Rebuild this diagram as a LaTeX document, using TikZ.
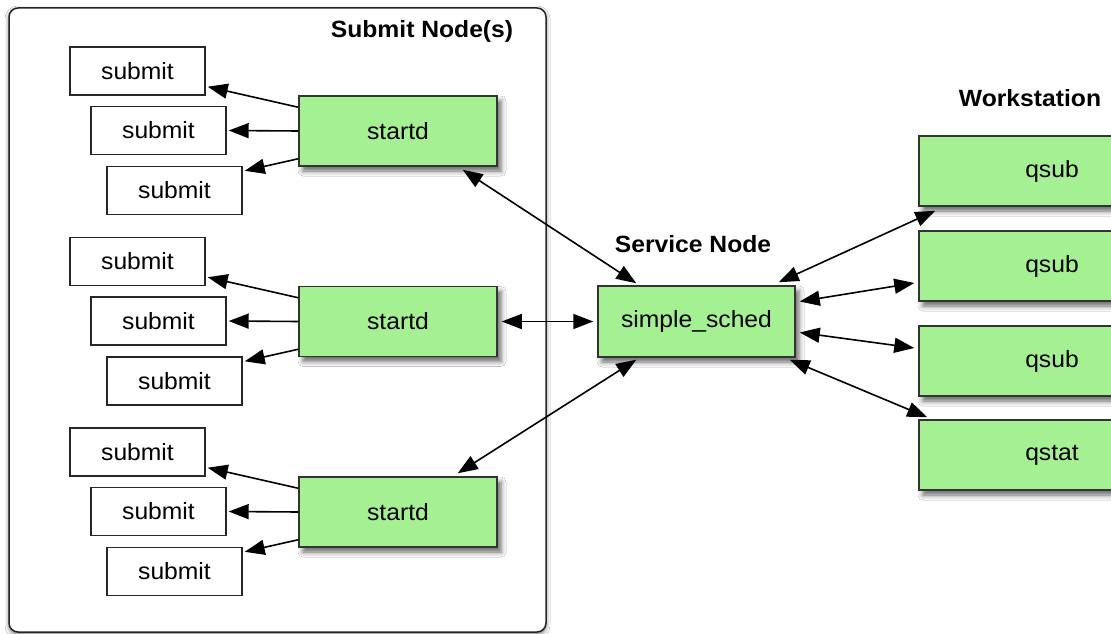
\documentclass[tikz,border=0pt]{standalone}
\usepackage{fontspec}
\setmainfont[FakeStretch=1.05]{Liberation Sans}
\usetikzlibrary{arrows.meta,calc,shadows.blur}
\definecolor{boxgreen}{RGB}{166,240,148}
\begin{document}
\begin{tikzpicture}[x=1pt,y=-1pt,
  font=\fontsize{23.5}{27}\selectfont,
  greenbox/.style={draw=black!80, line width=1.5pt, fill=boxgreen, minimum width=198pt, minimum height=70pt, inner sep=0pt,
    blur shadow={shadow xshift=4pt, shadow yshift=-5pt, shadow blur radius=5pt, shadow opacity=60}},
  subbox/.style={draw=black!85, line width=1.4pt, fill=white, minimum width=135pt, minimum height=48pt, inner sep=0pt},
  tip/.tip={Triangle[length=20pt,width=15pt]},
  arr/.style={line width=1.6pt, -tip},
  darr/.style={line width=1.6pt, tip-tip},
  lbl/.style={font=\fontsize{23.5}{27}\selectfont\bfseries, inner sep=0pt}]
\fill[white] (0,0) rectangle (1111,634);
\useasboundingbox (0,0) rectangle (1111,634);
\clip (0,0) rectangle (1111,634);

% container
\node[draw=black!85, line width=1.5pt, fill=white, rounded corners=9pt, minimum width=537pt, minimum height=624pt,
  blur shadow={shadow xshift=0pt, shadow yshift=-2pt, shadow blur radius=4pt, shadow opacity=60}] (outer) at (277.5,320) {};
\node[lbl] (lsubmit) at (422,31) {Submit Node(s)};

\foreach \g/\dy in {1/0,2/190.5,3/381}{
  \node[subbox] (sa\g) at (137.5,71+\dy) {submit};
  \node[subbox] (sb\g) at (158.5,130.5+\dy) {submit};
  \node[subbox] (sc\g) at (174.5,190.5+\dy) {submit};
  \node[greenbox] (st\g) at (398,131+\dy) {startd};
  \draw[arr] ($(st\g.north west)+(0,12)$) -- ($(sa\g.south east)+(2,-9)$);
  \draw[arr] (st\g.west) -- ($(sb\g.east)+(2,0)$);
  \draw[arr] ($(st\g.south west)+(0,-8)$) -- ($(sc\g.north east)+(2,5)$);
}

\node[lbl] (lservice) at (693,244) {Service Node};
\node[greenbox, minimum width=197pt, minimum height=71pt] (ss) at (696.5,321.5) {simple\_sched};

\node[lbl] (lwork) at (1030,98) {Workstation};
\node[greenbox, minimum width=266pt] (q1) at (1052,171) {qsub};
\node[greenbox, minimum width=266pt] (q2) at (1052,266) {qsub};
\node[greenbox, minimum width=266pt] (q3) at (1052,361) {qsub};
\node[greenbox, minimum width=266pt] (q4) at (1052,455) {qstat};

\draw[darr] ($(st1.south east)+(-35,3)$) -- ($(ss.north west)+(39,-2)$);
\draw[darr] ($(st2.east)+(4,0)$) -- ($(ss.west)+(-4,0)$);
\draw[darr] ($(st3.north east)+(-40,-3)$) -- ($(ss.south west)+(39,2)$);

\draw[darr] ($(ss.north east)+(-17,-3)$) -- ($(q1.south west)+(17,4)$);
\draw[darr] ($(ss.east)+(4,-20)$) -- ($(q2.west)+(-4,17)$);
\draw[darr] ($(ss.east)+(4,11)$) -- ($(q3.west)+(-4,-13)$);
\draw[darr] ($(ss.south east)+(-6,2)$) -- ($(q4.north west)+(9,-2)$);
\end{tikzpicture}
\end{document}
